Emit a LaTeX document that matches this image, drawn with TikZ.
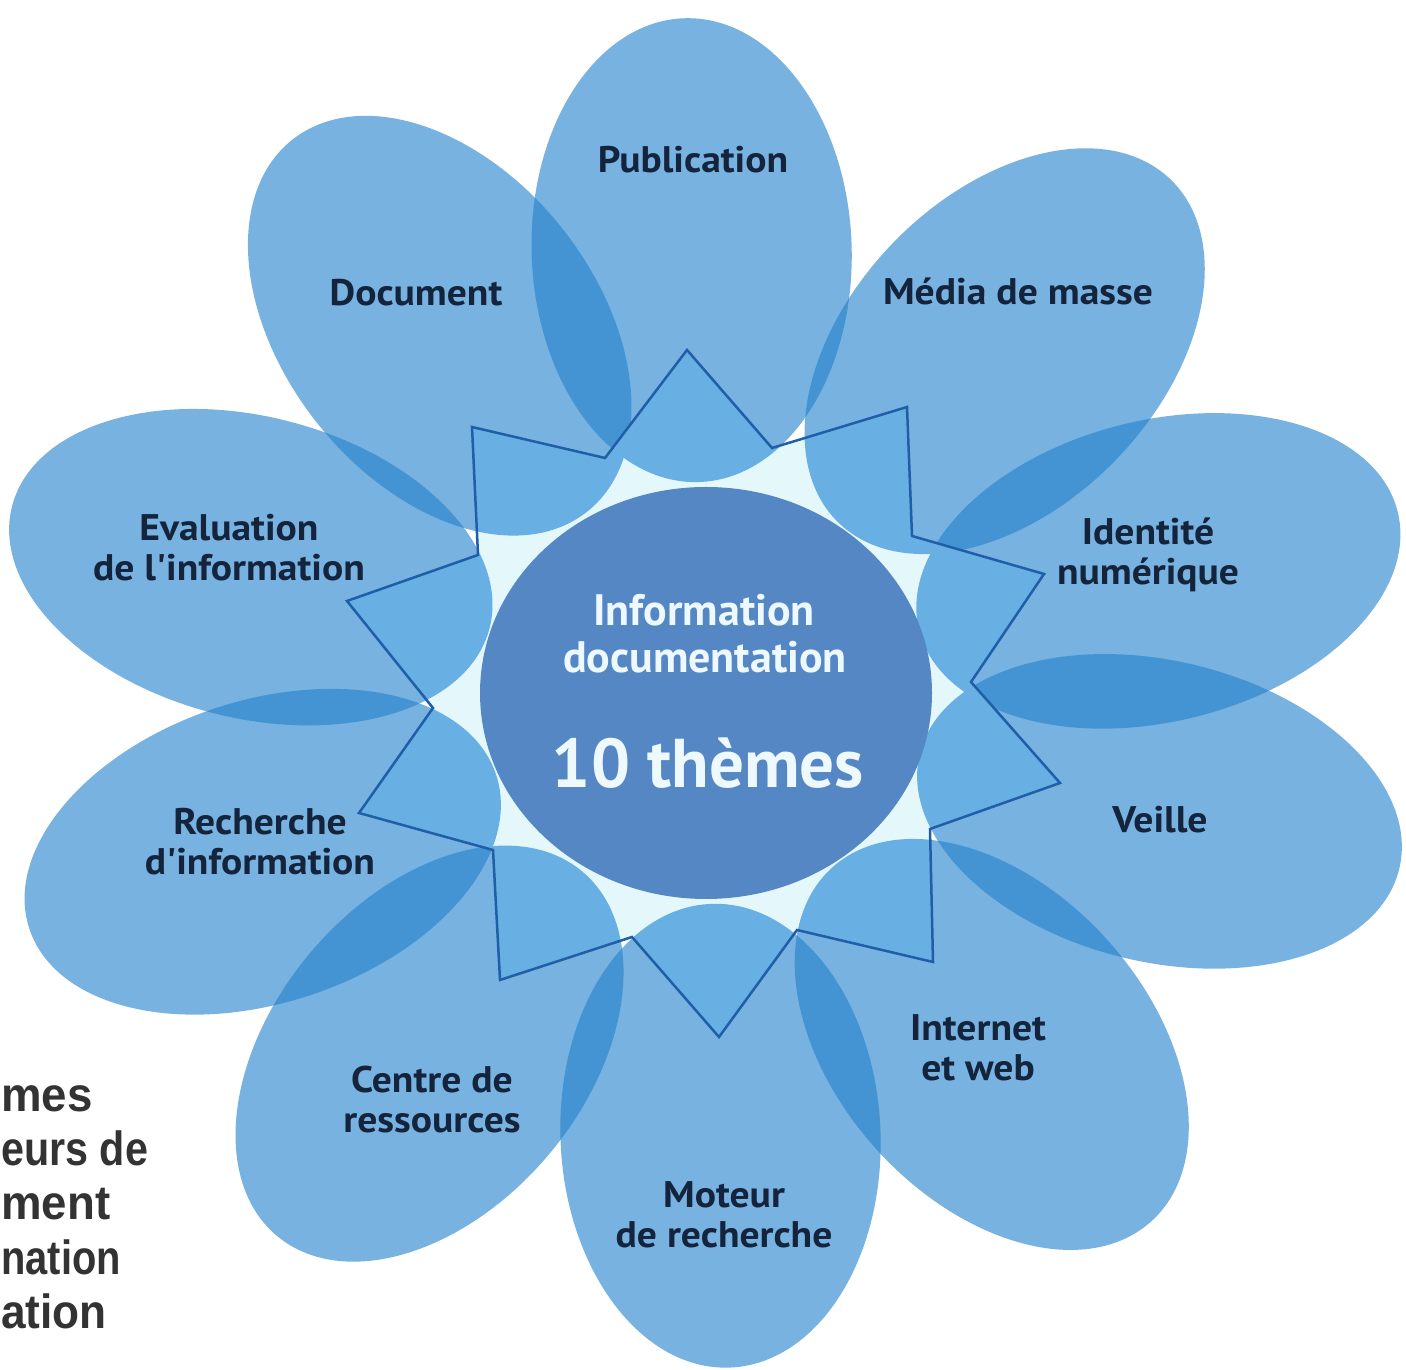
\documentclass[tikz,border=0pt]{standalone}
\usepackage{fontspec}
\setmainfont{PT Sans}
\newfontfamily\labelfont[FakeStretch=1.07]{PT Sans}
\newfontfamily\corefont{PT Sans}
\newfontfamily\sidefont{Liberation Sans}
\definecolor{petalblue}{RGB}{37,131,206}
\definecolor{innerblue}{RGB}{104,175,227}
\definecolor{gapcyan}{RGB}{228,248,252}
\definecolor{staredge}{RGB}{31,95,168}
\definecolor{coreblue}{RGB}{85,135,197}
\definecolor{labelink}{RGB}{20,36,60}
\definecolor{sideink}{RGB}{51,51,51}
\newcommand\starshape[1]{\path[#1] (687,1019) -- (772,921) -- (907,962) -- (912,833) -- (1044,795) -- (971,687) -- (1060,586) -- (930,540) -- (933,407) -- (797,439) -- (719,332) -- (632,432) -- (500,389) -- (493,519) -- (359,556) -- (433,661) -- (347,768) -- (478,814) -- (472,942) -- (605,911) -- cycle;}
\newcommand\petalset[1]{\begin{scope}[shift={(704,676)}, xscale=1.067]
  \foreach \a in {91.5,50.5,16,-15.5,-52.5,-88,-125.5,-159,163.5,124}
    \fill[#1, rotate=\a] (443,0) ellipse [x radius=232, y radius=150];
\end{scope}}
\tikzset{
  petal/.style={fill=petalblue, fill opacity=0.62},
  innerpetal/.style={fill=innerblue},
  lbl/.style={font=\labelfont\bfseries\fontsize{18.5}{20}\selectfont, text=labelink, align=center, inner sep=0pt},
  coretxt/.style={font=\corefont\bfseries\fontsize{22}{26}\selectfont, text=white!93!cyan, inner sep=0pt},
  side/.style={font=\sidefont\bfseries\fontsize{24}{26}\selectfont, text=sideink, anchor=base west, inner sep=0pt}
}
\begin{document}
\begin{tikzpicture}[x=0.5pt,y=0.5pt]
\useasboundingbox (0,0) rectangle (1406,1369);
\fill[white] (0,0) rectangle (1406,1369);
% side text
\node[side, xscale=0.95] (s1) at (1,257) {mes};
\node[side, xscale=0.86] (s2) at (1,203) {eurs de};
\node[side, xscale=0.95] (s3) at (1,149) {ment};
\node[side, xscale=0.83] (s4) at (1,94) {nation};
\node[side, xscale=0.92] (s5) at (1,40) {ation};
% petals
\petalset{petal}
% star
\starshape{fill=gapcyan}
\begin{scope}
  \starshape{clip}
  \petalset{innerpetal}
\end{scope}
\starshape{draw=staredge, line width=1.25pt, line join=miter}
% core
\fill[coreblue] (706,676) ellipse [x radius=226, y radius=206];
\node[coretxt] (c1) at (704,759) {Information};
\node[coretxt] (c2) at (705,712) {documentation};
\node[coretxt, font=\corefont\bfseries\fontsize{34.5}{40}\selectfont] (c3) at (708,606) {10 thèmes};
% labels
\node[lbl] (pub) at (693,1209) {Publication};
\node[lbl] (doc) at (416,1076) {Document};
\node[lbl] (med) at (1018,1078) {Média de masse};
\node[lbl] (eva) at (229,821) {Evaluation\\de l'information};
\node[lbl] (ide) at (1148,814) {Identité\\numérique};
\node[lbl] (vei) at (1160,549) {Veille};
\node[lbl] (rec) at (260,527) {Recherche\\d'information};
\node[lbl] (cen) at (432,269) {Centre de\\ressources};
\node[lbl] (int) at (978,321) {Internet\\et web};
\node[lbl] (mot) at (724,154) {Moteur\\de recherche};
\end{tikzpicture}
\end{document}
